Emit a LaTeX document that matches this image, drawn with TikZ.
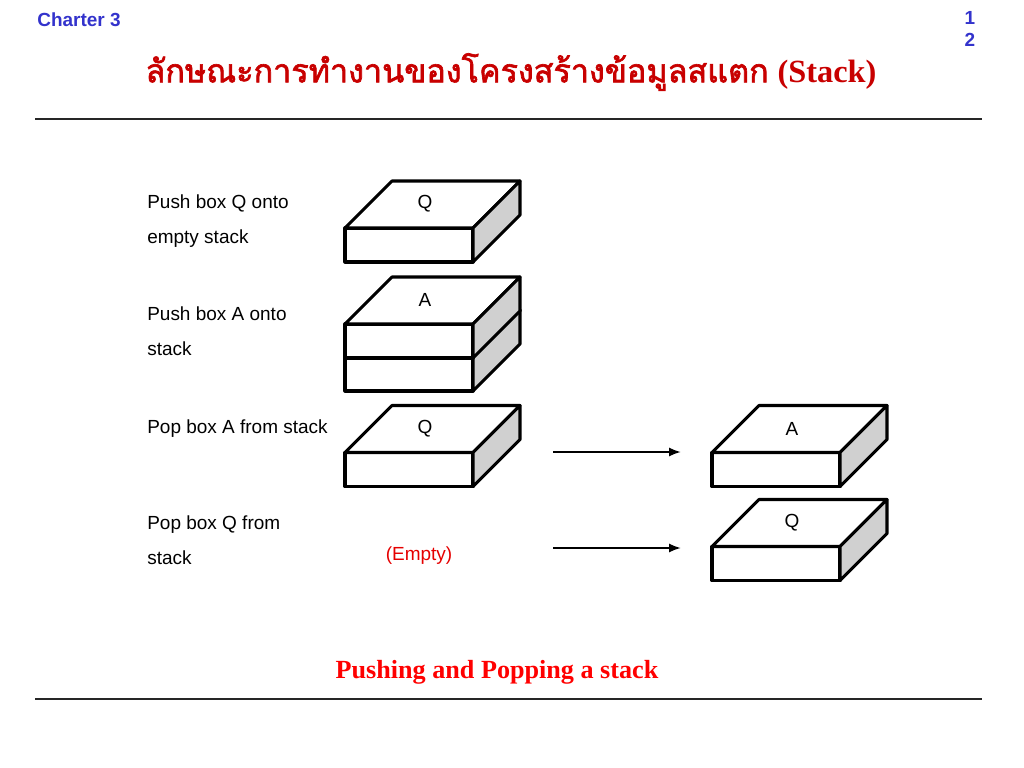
\documentclass[tikz,border=0pt]{standalone}
\usepackage{fontspec}
\setmainfont{Liberation Sans}
\newfontfamily\timesfont{Liberation Serif}
\newfontfamily\thaifont[Script=Thai, FakeBold=2]{Loma}
\usetikzlibrary{arrows.meta}

\definecolor{chapblue}{RGB}{51,51,204}
\definecolor{titlered}{RGB}{200,0,0}
\definecolor{sidegray}{RGB}{208,208,208}

% one slab of the stack: front face as a node, top and side drawn on it
\newcommand{\slab}[4]{%
  \node[front] (#1) at (#2,#3) {};
  \draw[face] (#1.north west) -- ++(47,-47) -- ++(128,0) -- (#1.north east) -- cycle;
  \draw[face, fill=sidegray] (#1.north east) -- ++(47,-47) -- ++(0,34) -- (#1.south east) -- cycle;
  \node[boxlabel] (#1-lbl) at ([shift={(16,-24)}]#1.north) {#4};
}

\begin{document}
\begin{tikzpicture}[
    x=0.025cm, y=-0.025cm,
    front/.style={
        draw,
        fill=white,
        line width=2.2pt,
        line join=round,
        minimum width=3.2cm,
        minimum height=0.85cm,
        inner sep=0pt,
        outer sep=0pt
    },
    face/.style={draw, fill=white, line width=2.2pt, line join=round},
    boxlabel/.style={font=\fontsize{13.5}{16}\selectfont},
    steptext/.style={anchor=north west, inner sep=0pt, align=left,
        font=\fontsize{13.5}{25.2}\selectfont},
    rule/.style={line width=0.8pt, black!85},
    arrow/.style={-{Latex[length=8.5pt,width=6.5pt]}, line width=1.5pt}
]
\useasboundingbox (0,0) rectangle (1024,768);

% Header
\node[font=\fontsize{13.5}{16}\selectfont\bfseries, text=chapblue] (chapter) at (79,20) {Charter 3};
\node[font=\fontsize{13.5}{16}\selectfont\bfseries, text=chapblue, align=center] (page) at (970,29) {1\\2};
\node[text=titlered, font=\fontsize{23}{28}\selectfont] (title) at (511,72)
    {{\thaifont ลักษณะการทำงานของโครงสร้างข้อมูลสแตก} {\timesfont\bfseries (Stack)}};
\coordinate (topL) at (35,119);
\coordinate (topR) at (982,119);
\draw[rule] (topL) -- (topR);

% Step texts
\node[steptext] (t1) at (147,194) {Push box Q onto\\empty stack};
\node[steptext] (t2) at (147,306) {Push box A onto\\stack};
\node[steptext] (t3) at (147,419) {Pop box A from stack};
\node[steptext] (t4) at (147,515) {Pop box Q from\\stack};

% Row 1: push Q
\slab{q1}{409}{245}{Q}

% Row 2: push A on Q
\slab{q2}{409}{374}{}
\slab{a2}{409}{341}{A}

% Row 3: pop A
\slab{q3}{409}{469.5}{Q}
\slab{a3}{776}{469.5}{A}

% Row 4: pop Q
\node[text=red!90!black, font=\fontsize{13.5}{16}\selectfont] (empty) at (419,556) {(Empty)};
\slab{q4}{776}{563.5}{Q}

% Arrows
\coordinate (p3s) at (553,452);
\coordinate (p3e) at (681,452);
\coordinate (p4s) at (553,548);
\coordinate (p4e) at (681,548);
\draw[arrow] (p3s) -- (p3e);
\draw[arrow] (p4s) -- (p4e);

% Caption
\node[text=red, font=\fontsize{18.6}{22}\selectfont\bfseries\timesfont] (caption) at (497,672) {Pushing and Popping a stack};
\coordinate (botL) at (35,699);
\coordinate (botR) at (982,699);
\draw[rule] (botL) -- (botR);

\end{tikzpicture}
\end{document}
